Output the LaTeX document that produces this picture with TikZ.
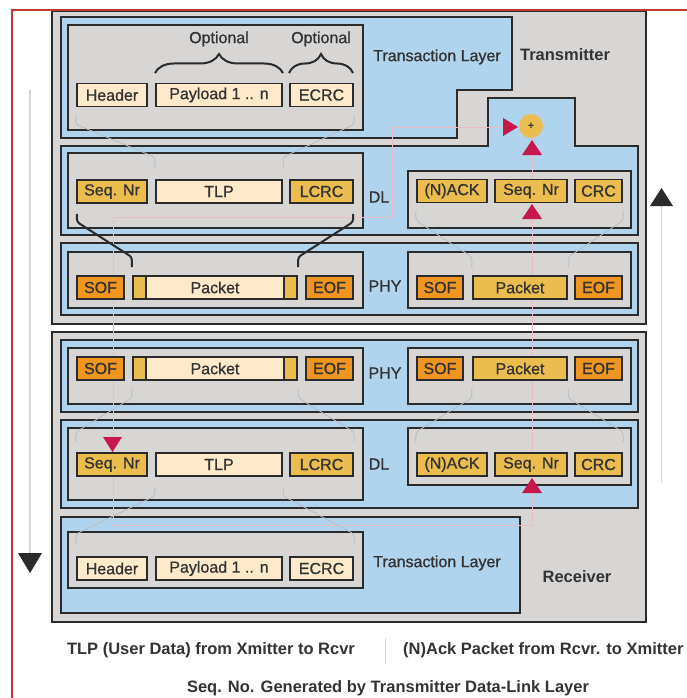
\documentclass[tikz,border=0pt]{standalone}
\usepackage{fontspec}
\setmainfont{Liberation Sans}
\newfontfamily\medfont{Liberation Sans}[FakeBold=0.9]
\usetikzlibrary{decorations.pathreplacing}
\definecolor{dk}{HTML}{2B2B2B}
\definecolor{tx}{HTML}{333333}
\definecolor{gry}{HTML}{D7D6D4}
\definecolor{blu}{HTML}{B0D3EE}
\definecolor{crm}{HTML}{FEEACB}
\definecolor{ylw}{HTML}{EBBD4E}
\definecolor{org}{HTML}{F0951F}
\definecolor{rd}{HTML}{C8174C}
\definecolor{fnt}{HTML}{BDBDBD}
\definecolor{pnk}{HTML}{E9BCC6}
\definecolor{brd}{HTML}{C0392B}
\definecolor{arl}{HTML}{D4D4D4}
\newcommand\fs{\medfont\fontsize{16}{19}\selectfont}
\newcommand\fl{\medfont\fontsize{16}{19}\selectfont}
\newcommand\fg{\fontsize{16.5}{19}\selectfont}
\newcommand\fld[6]{\node[fld,fill=#5,minimum width={#3-#2-1.5}] (#1) at ({(#2+#3)/2},#4) {#6};}
\begin{document}
\begin{tikzpicture}[x=1pt,y=-1pt,
  region/.style={draw=dk,line width=2.2pt,fill=blu},
  innerbox/.style={draw=dk,line width=2.2pt,fill=gry},
  outerbox/.style={draw=dk,line width=2.6pt,fill=gry},
  fld/.style={draw=dk,line width=1.8pt,minimum height=23pt,inner sep=0pt,font=\fs,text=tx},
  lbl/.style={font=\fl,text=tx,inner sep=0pt},
  boldlbl/.style={font=\fg\bfseries,text=tx,inner sep=0pt},
  legend/.style={font=\fg\bfseries,text=tx,inner sep=0pt},
  conn/.style={draw=dk,line width=2pt,rounded corners=3pt},
  faint/.style={draw=fnt,line width=0.8pt,rounded corners=3pt},
  pinkline/.style={draw=pnk,line width=0.7pt},
  brc/.style={draw=dk,line width=2pt,decorate,decoration={brace,amplitude=19pt,aspect=0.5}},
  arrline/.style={draw=arl,line width=1.5pt},
]
\useasboundingbox (0,0) rectangle (687,698);
\fill[white] (0,0) rectangle (687,698);

% direction arrows
\draw[arrline] (30,90) -- (30,553);
\fill[dk] (18,553) -- (42,553) -- (30,573) -- cycle;
\draw[arrline] (661.5,206) -- (661.5,483);
\fill[dk] (650,206) -- (673,206) -- (661.5,188) -- cycle;

% outer boxes
\draw[outerbox] (52,11) rectangle (646,324);
\draw[outerbox] (52,332) rectangle (646,622);

% blue layer regions
\draw[region] (61,17) -- (512,17) -- (512,90) -- (457,90) -- (457,138) -- (61,138) -- cycle;
\draw[region] (61,146) -- (488,146) -- (488,98) -- (575,98) -- (575,146) -- (638,146) -- (638,235) -- (61,235) -- cycle;
\draw[region] (61,243) rectangle (638,315);
\draw[region] (61,340) rectangle (638,412);
\draw[region] (61,420) rectangle (638,508);
\draw[region] (61,517) rectangle (520,613);

% inner gray boxes
\draw[innerbox] (68,25) rectangle (363,130);
\draw[innerbox] (68,153) rectangle (363,228);
\draw[innerbox] (408,171) rectangle (631,228);
\draw[innerbox] (68,252) rectangle (363,308);
\draw[innerbox] (408,252) rectangle (631,308);
\draw[innerbox] (68,348) rectangle (363,404);
\draw[innerbox] (408,348) rectangle (631,404);
\draw[innerbox] (68,428) rectangle (363,500);
\draw[innerbox] (408,428) rectangle (631,485);
\draw[innerbox] (68,532) rectangle (363,588);

% sequence-number loop (faint pink), behind the fields
\coordinate (p1) at (392,127);
\coordinate (p2) at (392,217);
\coordinate (p3) at (113,217);
\coordinate (p4) at (113,525);
\coordinate (p5) at (532,525);
\coordinate (p6) at (532,138);
\draw[pinkline] (503,127) -- (p1) -- (p2) -- (p3) -- (p4) -- (p5) -- (p6);

% fields: transmitter
\fld{th}{76}{148}{95}{crm}{Header}
\fld{tp}{155}{283}{95}{crm}{Payload 1 .. n}
\fld{te}{289}{354}{95}{crm}{ECRC}
\fld{tds}{76}{148}{191.5}{ylw}{Seq. Nr}
\fld{tdt}{155}{283}{191.5}{crm}{TLP}
\fld{tdl}{289}{354}{191.5}{ylw}{LCRC}
\fld{tdn}{416}{488}{191}{ylw}{(N)ACK}
\fld{tdq}{494}{568}{191}{ylw}{Seq. Nr}
\fld{tdc}{574}{623}{191}{ylw}{CRC}
\fld{tps}{76}{125}{287.5}{org}{SOF}
\fld{tpp}{132}{298}{287.5}{crm}{Packet}
\fld{tpa}{132}{147}{287.5}{ylw}{}
\fld{tpb}{283}{298}{287.5}{ylw}{}
\fld{tpe}{305}{354}{287.5}{org}{EOF}
\fld{tqs}{416}{464}{287.5}{org}{SOF}
\fld{tqp}{472}{568}{287.5}{ylw}{Packet}
\fld{tqe}{574}{623}{287.5}{org}{EOF}
% fields: receiver
\fld{rps}{76}{125}{368.5}{org}{SOF}
\fld{rpp}{132}{298}{368.5}{crm}{Packet}
\fld{rpa}{132}{147}{368.5}{ylw}{}
\fld{rpb}{283}{298}{368.5}{ylw}{}
\fld{rpe}{305}{354}{368.5}{org}{EOF}
\fld{rqs}{416}{464}{368.5}{org}{SOF}
\fld{rqp}{472}{568}{368.5}{ylw}{Packet}
\fld{rqe}{574}{623}{368.5}{org}{EOF}
\fld{rds}{76}{148}{464.5}{ylw}{Seq. Nr}
\fld{rdt}{155}{283}{464.5}{crm}{TLP}
\fld{rdl}{289}{354}{464.5}{ylw}{LCRC}
\fld{rdn}{416}{488}{464.5}{ylw}{(N)ACK}
\fld{rdq}{494}{568}{464.5}{ylw}{Seq. Nr}
\fld{rdc}{574}{623}{464.5}{ylw}{CRC}
\fld{rh}{76}{148}{568.5}{crm}{Header}
\fld{rp}{155}{283}{568.5}{crm}{Payload 1 .. n}
\fld{re}{289}{354}{568.5}{crm}{ECRC}

% faint mapping lines
\draw[faint] ([shift={(0,8)}]th.south west) -- ++(0,9) -- ([shift={(0,-22)}]tdt.north west) -- ([shift={(0,-10)}]tdt.north west);
\draw[faint] ([shift={(0,8)}]te.south east) -- ++(0,9) -- ([shift={(0,-22)}]tdt.north east) -- ([shift={(0,-10)}]tdt.north east);
\draw[faint] ([shift={(0,8)}]tdn.south west) -- ++(0,9) -- ([shift={(0,-18)}]tqp.north west) -- ([shift={(0,-8)}]tqp.north west);
\draw[faint] ([shift={(0,8)}]tdc.south east) -- ++(0,9) -- ([shift={(0,-18)}]tqp.north east) -- ([shift={(0,-8)}]tqp.north east);
\draw[faint] ([shift={(0,8)}]rpp.south west) -- ++(0,9) -- ([shift={(0,-20)}]rds.north west) -- ([shift={(0,-10)}]rds.north west);
\draw[faint] ([shift={(0,8)}]rpp.south east) -- ++(0,9) -- ([shift={(0,-20)}]rdl.north east) -- ([shift={(0,-10)}]rdl.north east);
\draw[faint] ([shift={(0,8)}]rqp.south west) -- ++(0,9) -- ([shift={(0,-20)}]rdn.north west) -- ([shift={(0,-10)}]rdn.north west);
\draw[faint] ([shift={(0,8)}]rqp.south east) -- ++(0,9) -- ([shift={(0,-20)}]rdc.north east) -- ([shift={(0,-10)}]rdc.north east);
\draw[faint] ([shift={(0,10)}]rdt.south west) -- ++(0,9) -- ([shift={(0,-22)}]rh.north west) -- ([shift={(0,-12)}]rh.north west);
\draw[faint] ([shift={(0,10)}]rdt.south east) -- ++(0,9) -- ([shift={(0,-22)}]re.north east) -- ([shift={(0,-12)}]re.north east);

% black connectors DL -> PHY (transmitter)
\draw[conn] ([shift={(1,10)}]tds.south west) -- ++(0,8) -- ([shift={(0,-18)}]tpp.north west) -- ([shift={(0,-8)}]tpp.north west);
\draw[conn] ([shift={(-1,10)}]tdl.south east) -- ++(0,8) -- ([shift={(0,-18)}]tpp.north east) -- ([shift={(0,-8)}]tpp.north east);

% braces and optional labels
\draw[brc] (155,73) -- (283,73);
\draw[brc] (289,73) -- (353,73);
\node[lbl] (opt1) at (219,39) {Optional};
\node[lbl] (opt2) at (321,39) {Optional};

% layer labels
\node[lbl] (ttl) at (437,57) {Transaction Layer};
\node[boldlbl] (tmt) at (565,55) {Transmitter};
\node[lbl] (tdlab) at (379,197) {DL};
\node[lbl] (tphy) at (385,286) {PHY};
\node[lbl] (rphy) at (385,373) {PHY};
\node[lbl] (rdlab) at (379,464) {DL};
\node[lbl] (rtl) at (437,563) {Transaction Layer};
\node[boldlbl] (rcv) at (577,577) {Receiver};

% adder and red markers
\node[circle,fill=ylw,minimum size=24pt,inner sep=0pt,font=\fontsize{11}{12}\selectfont\bfseries,text=tx] (plus) at (531,126) {+};
\fill[rd] (503,118) -- (503,136) -- (518,127) -- cycle;
\fill[rd] (522,155) -- (542,155) -- (532,140) -- cycle;
\fill[rd] (522,219) -- (542,219) -- (532,204) -- cycle;
\fill[rd] (103,437) -- (122,437) -- (112.5,452) -- cycle;
\fill[rd] (522,493) -- (542,493) -- (532,478) -- cycle;

% legend
\node[legend] (lg1) at (211,650) {TLP (User Data) from Xmitter to Rcvr};
\draw[draw=arl,line width=1pt] (385,638) -- (385,664);
\node[legend,anchor=west] (lg2) at (403,650) {(N)Ack Packet from Rcvr. to Xmitter};
\node[legend] (lg3) at (388,688) {Seq. No. Generated by Transmitter Data-Link Layer};

% red frame
\draw[brd,line width=1.2pt] (12,698) -- (12,10) -- (687,10);
\end{tikzpicture}
\end{document}
